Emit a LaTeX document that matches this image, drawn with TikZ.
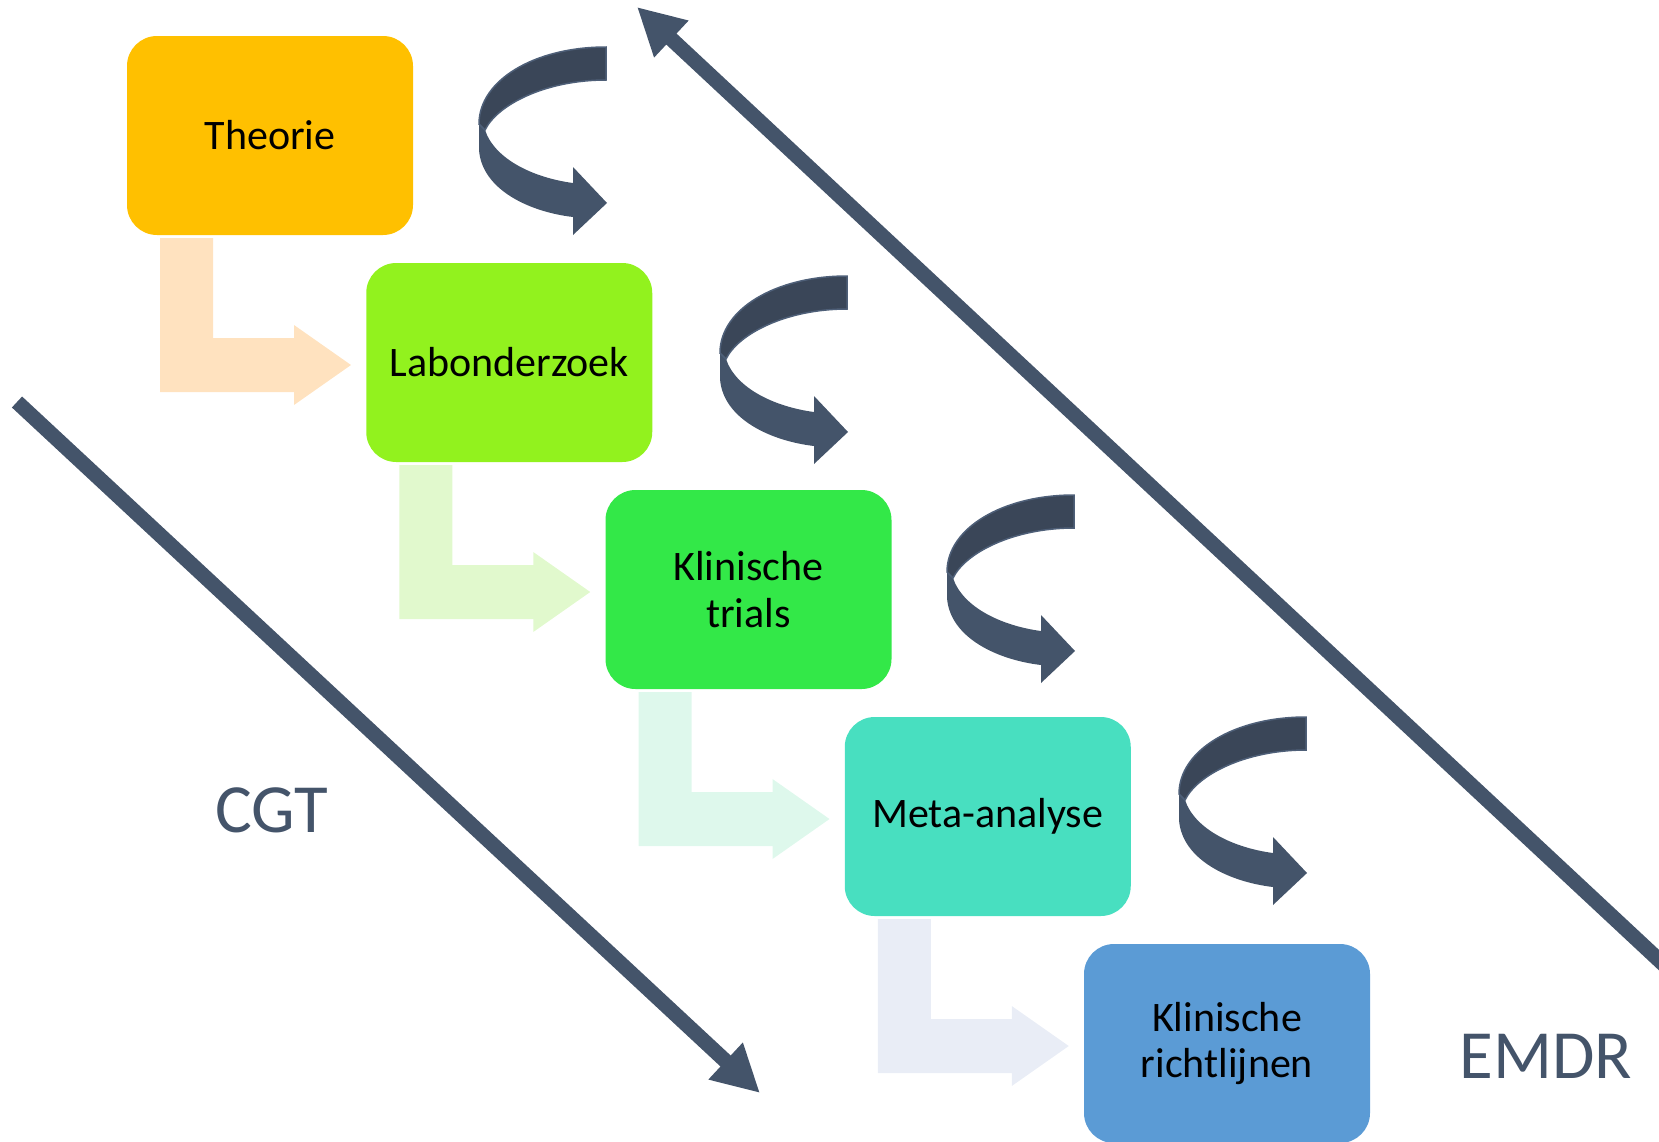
\documentclass[tikz,border=0pt]{standalone}
\usepackage{fontspec}
\setmainfont{Carlito}
\usetikzlibrary{arrows.meta}
\definecolor{slate}{HTML}{44546A}
\definecolor{slatedark}{HTML}{3A4658}
\definecolor{slateedge}{HTML}{4E5F78}
\definecolor{cA}{HTML}{FFC000}
\definecolor{cB}{HTML}{92F21E}
\definecolor{cC}{HTML}{33E848}
\definecolor{cD}{HTML}{48DFC0}
\definecolor{cE}{HTML}{5B9BD5}
\definecolor{tA}{HTML}{FFE2BF}
\definecolor{tB}{HTML}{E1F9CD}
\definecolor{tC}{HTML}{DEF8EC}
\definecolor{tD}{HTML}{E9EDF6}
\tikzset{
  box/.style={rounded corners=30pt, minimum width=286pt, minimum height=199pt,
    inner sep=0pt, align=center, text=black, font=\fontsize{42}{47}\selectfont},
  bigarrow/.style={draw=slate, line width=15pt, -{Triangle[length=47pt,width=47pt]}},
  sidelabel/.style={text=slate, font=\fontsize{69}{72}\selectfont},
  bentarrow/.pic={
    \fill[#1] (160,238) -- (213,238) -- (213,338) -- (294,338) -- (294,325)
      -- (351,365) -- (294,405) -- (294,392) -- (160,392) -- cycle;
  },
  curvedarrow/.pic={
    \fill[slate] (479,118) -- (479,150) .. controls (482,190) and (530,212) .. (573,217)
      -- (573,235) -- (607,203) -- (573,167) -- (573,183)
      .. controls (535,178) and (495,160) .. (485,130) -- cycle;
    \filldraw[fill=slatedark, draw=slateedge, line width=1.5pt]
      (606,47) .. controls (535,47) and (479,80) .. (479,124)
      -- (485,130) .. controls (497,105) and (545,80) .. (606,80) -- cycle;
  }
}
\begin{document}
\begin{tikzpicture}[x=1pt,y=-1pt]
\useasboundingbox (0,0) rectangle (1659,1141);
\clip (0,0) rectangle (1659,1141);

% light bent arrows
\pic at (0,0) {bentarrow=tA};
\pic at (239.25,227) {bentarrow=tB};
\pic at (478.5,454) {bentarrow=tC};
\pic at (717.75,681) {bentarrow=tD};

% boxes
\node[box, fill=cA] (b0) at (270,135.5) {Theorie};
\node[box, fill=cB] (b1) at (509.25,362.5) {Labonderzoek};
\node[box, fill=cC] (b2) at (748.5,589.5) {Klinische\\trials};
\node[box, fill=cD] (b3) at (987.75,816.5) {Meta-analyse};
\node[box, fill=cE] (b4) at (1227,1043.5) {Klinische\\richtlijnen};

% curved arrows
\pic at (0,0) {curvedarrow};
\pic at (241,229) {curvedarrow};
\pic at (468,448) {curvedarrow};
\pic at (700,670) {curvedarrow};

% long diagonal arrows
\coordinate (cgtS) at (17,402);
\coordinate (cgtE) at (760,1093);
\coordinate (emS) at (1720,1017);
\coordinate (emE) at (637,7);
\draw[bigarrow] (cgtS) -- (cgtE);
\draw[bigarrow] (emS) -- (emE);

% labels
\node[sidelabel] (cgt) at (272,810) {CGT};
\node[sidelabel] (emdr) at (1546,1056) {EMDR};
\end{tikzpicture}
\end{document}
